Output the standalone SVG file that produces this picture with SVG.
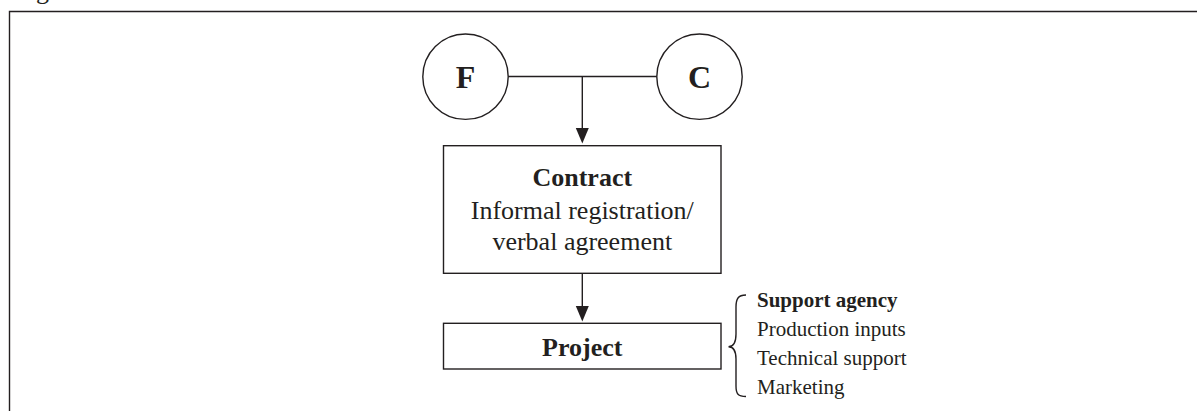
<svg xmlns="http://www.w3.org/2000/svg" width="1197" height="411" viewBox="0 0 1197 411">
<defs>
<style>
.ln{fill:none;stroke:#231f20;stroke-width:1.4}
.nd{fill:#fff;stroke:#231f20;stroke-width:1.4}
.t{font-family:"Liberation Serif","Times New Roman",serif;fill:#231f20}
.b{font-weight:bold}
</style>
</defs>
<rect width="1197" height="411" fill="#fff"/>
<text class="t" x="36" y="-1" font-size="26">g</text>
<path class="ln" d="M9.5,411 V11.5 H1197"/>
<g id="connectors">
<path class="ln" d="M508,76.5 H657"/>
<path class="ln" d="M582.3,76.5 V128"/>
<path d="M575.8,128 L588.8,128 L582.3,143.5 Z" fill="#231f20"/>
<path class="ln" d="M582.3,273.5 V306"/>
<path d="M575.8,306 L588.8,306 L582.3,321.5 Z" fill="#231f20"/>
</g>
<g id="F">
<circle class="nd" cx="465.5" cy="76.7" r="42.7"/>
<text class="t b" x="465.5" y="88" font-size="32" text-anchor="middle">F</text>
</g>
<g id="C">
<circle class="nd" cx="699.5" cy="76.7" r="42.7"/>
<text class="t b" x="699.5" y="88" font-size="32" text-anchor="middle">C</text>
</g>
<g id="contract">
<rect class="nd" x="443.5" y="145.7" width="277.5" height="127.6"/>
<text class="t b" x="582.3" y="186" font-size="26" text-anchor="middle">Contract</text>
<text class="t" x="582.3" y="219" font-size="26" text-anchor="middle">Informal registration/</text>
<text class="t" x="582.3" y="250" font-size="26" text-anchor="middle">verbal agreement</text>
</g>
<g id="project">
<rect class="nd" x="443.5" y="323.3" width="277.5" height="45.7"/>
<text class="t b" x="582.3" y="356" font-size="26" text-anchor="middle">Project</text>
</g>
<g id="support">
<path class="ln" d="M746,295 C738,295 736,299 736,307 V334 C736,342 734,346.7 728.5,346.7 C734,346.7 736,351 736,359 V386 C736,394 738,396.5 746,396.5"/>
<text class="t b" x="757" y="307" font-size="21">Support agency</text>
<text class="t" x="757" y="336" font-size="21">Production inputs</text>
<text class="t" x="757" y="365" font-size="21">Technical support</text>
<text class="t" x="757" y="394" font-size="21">Marketing</text>
</g>
</svg>
